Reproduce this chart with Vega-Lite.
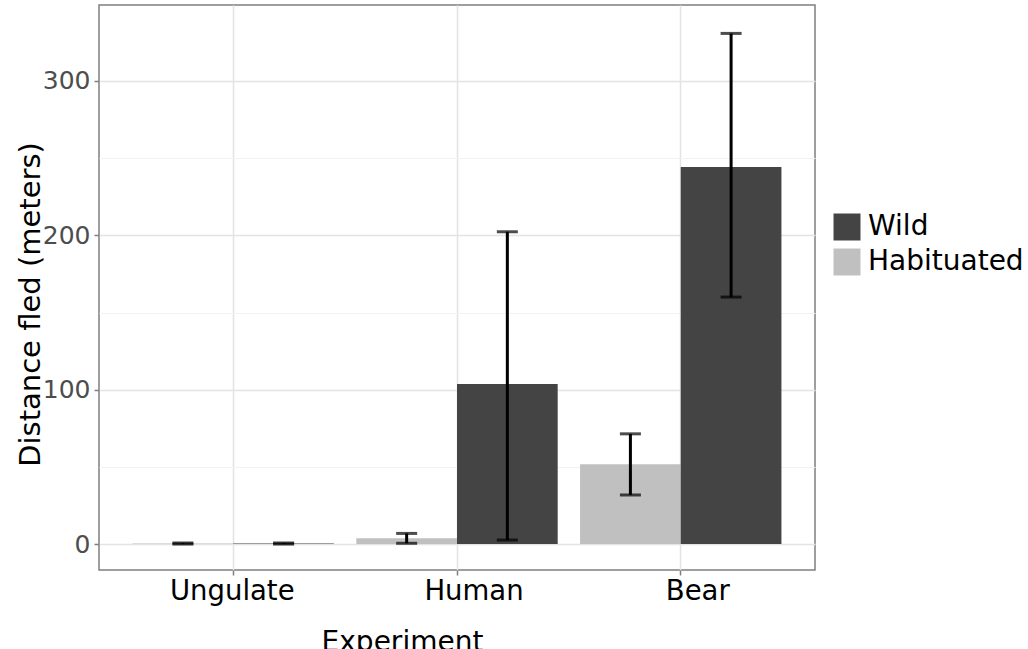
{
  "$schema": "https://vega.github.io/schema/vega-lite/v6.json",
  "width": 716,
  "height": 565,
  "autosize": {"type": "none"},
  "padding": {"left": 99, "top": 5, "right": 213, "bottom": 79},
  "background": "white",
  "config": {
    "font": "DejaVu Sans",
    "view": {"stroke": "#7f7f7f", "strokeWidth": 1.5}
  },
  "data": {
    "values": [
      {"Experiment": "Ungulate", "Group": "Habituated", "mean": 0.3, "lo": 0.0, "hi": 0.7},
      {"Experiment": "Ungulate", "Group": "Wild", "mean": 0.3, "lo": 0.0, "hi": 0.7},
      {"Experiment": "Human", "Group": "Habituated", "mean": 3.7, "lo": 0.5, "hi": 6.9},
      {"Experiment": "Human", "Group": "Wild", "mean": 103.7, "lo": 2.6, "hi": 202.3},
      {"Experiment": "Bear", "Group": "Habituated", "mean": 51.7, "lo": 31.8, "hi": 71.4},
      {"Experiment": "Bear", "Group": "Wild", "mean": 244.3, "lo": 160.0, "hi": 330.8}
    ]
  },
  "encoding": {
    "x": {
      "field": "Experiment",
      "type": "nominal",
      "sort": ["Ungulate", "Human", "Bear"],
      "scale": {"paddingInner": 0.1, "paddingOuter": 0.15},
      "axis": {
        "title": "Experiment",
        "titleFontSize": 28,
        "titleFontWeight": "normal",
        "titleColor": "black",
        "titleX": 303,
        "titleY": 80,
        "titleBaseline": "alphabetic",
        "titleAlign": "center",
        "labelAngle": 0,
        "labelFontSize": 27.5,
        "labelFontWeight": "normal",
        "labelColor": "black",
        "labelPadding": 2,
        "labelOffset": {"condition": {"test": "datum.value === 'Ungulate'", "value": -1}, "value": 17},
        "tickSize": 5,
        "tickColor": "#7f7f7f",
        "tickWidth": 1.5,
        "domain": false,
        "grid": true,
        "gridColor": "#e3e3e3",
        "gridWidth": 1.5,
        "bandPosition": 0.5
      }
    },
    "xOffset": {
      "field": "Group",
      "type": "nominal",
      "sort": ["Habituated", "Wild"],
      "scale": {"paddingInner": 0, "paddingOuter": 0}
    }
  },
  "layer": [
    {
      "mark": {"type": "bar"},
      "encoding": {
        "y": {
          "field": "mean",
          "type": "quantitative",
          "scale": {"domain": [-16.8, 349.2], "nice": false, "zero": false},
          "axis": {
            "title": "Distance fled (meters)",
            "titleFontSize": 29,
            "titleFontWeight": "normal",
            "titleColor": "black",
            "titleX": -69,
            "titleY": 299,
            "titleAlign": "center",
            "titleBaseline": "middle",
            "values": [0, 50, 100, 150, 200, 250, 300],
            "labelExpr": "datum.value % 100 === 0 ? datum.label : ''",
            "labelFontSize": 25,
            "labelColor": "#4d4d4d",
            "labelPadding": 4,
            "tickSize": 5,
            "tickWidth": 1.5,
            "tickColor": {"condition": {"test": "datum.value % 100 !== 0", "value": "transparent"}, "value": "#7f7f7f"},
            "domain": false,
            "grid": true,
            "gridColor": {"condition": {"test": "datum.value % 100 !== 0", "value": "#f2f2f2"}, "value": "#e3e3e3"},
            "gridWidth": {"condition": {"test": "datum.value % 100 !== 0", "value": 1}, "value": 1.5}
          }
        },
        "y2": {"datum": 0},
        "color": {
          "field": "Group",
          "type": "nominal",
          "scale": {"domain": ["Wild", "Habituated"], "range": ["#444444", "#c0c0c0"]},
          "legend": {
            "title": null,
            "orient": "none",
            "legendX": 734,
            "legendY": 208,
            "padding": 0,
            "symbolType": "square",
            "symbolSize": 729,
            "symbolStrokeWidth": 0,
            "rowPadding": 7,
            "labelOffset": 7,
            "labelFontSize": 28,
            "labelFontWeight": "normal",
            "labelColor": "black"
          }
        }
      }
    },
    {
      "mark": {"type": "rule", "color": "black", "strokeWidth": 3},
      "encoding": {
        "y": {"field": "lo", "type": "quantitative"},
        "y2": {"field": "hi"}
      }
    },
    {
      "mark": {"type": "tick", "color": "black", "thickness": 3, "size": 21, "orient": "horizontal"},
      "encoding": {
        "y": {"field": "lo", "type": "quantitative"}
      }
    },
    {
      "mark": {"type": "tick", "color": "black", "thickness": 3, "size": 21, "orient": "horizontal"},
      "encoding": {
        "y": {"field": "hi", "type": "quantitative"}
      }
    }
  ]
}
